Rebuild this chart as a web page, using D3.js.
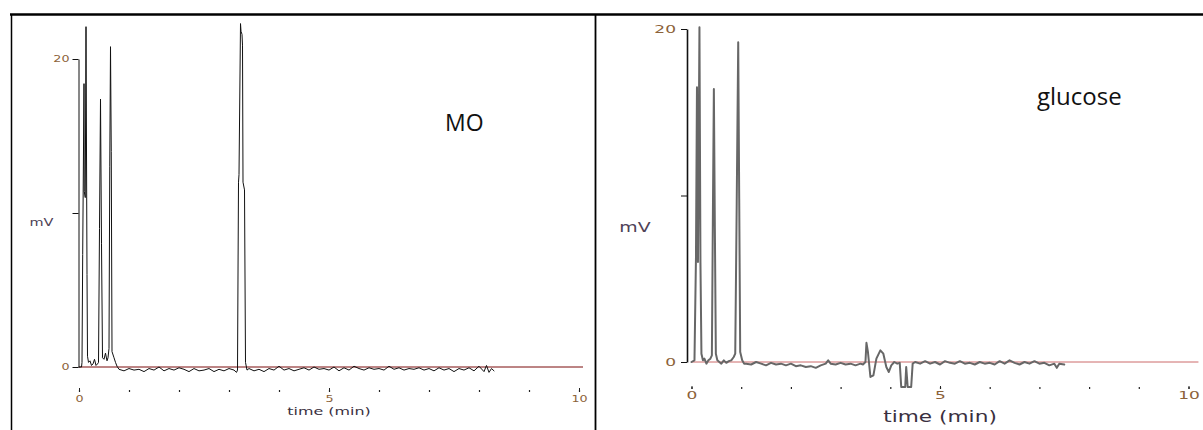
<!DOCTYPE html>
<html>
<head>
<meta charset="utf-8">
<script src="https://cdn.jsdelivr.net/npm/d3@7"></script>
<style>
body { margin: 0; background: #fff; }
svg { display: block; }
.trace { fill: none; stroke-linejoin: round; stroke-linecap: round; }
</style>
</head>
<body>
<div id="chart"></div>
<script>
"use strict"

// axis ticks
const timeTicks = [0, 1, 2, 3, 4, 5, 6, 7, 8, 9, 10];
const timeLabels = [0, 5, 10];
const mvTicks = [0, 10, 20];
const mvLabels = [0, 20];
const panelNames = ["MO", "glucose"];

// MO chromatogram, [time (min), mV]
const moTrace = [
    [0.00, 0], [0.05, 0], [0.06, 0.3], [0.074, 7.3], [0.10, 18.4], [0.105, 11.4], [0.125, 11],
    [0.14, 22.1], [0.16, 6], [0.17, 0.7], [0.19, 0.3], [0.22, 0.4], [0.25, 0.1], [0.28, 0.2],
    [0.31, 0.5], [0.34, 0.1], [0.37, 0.2], [0.39, 0.3], [0.41, 9], [0.43, 17.4], [0.45, 8],
    [0.47, 0.6], [0.50, 0.5], [0.53, 0.9], [0.56, 0.4], [0.58, 0.6], [0.60, 1.2], [0.615, 13],
    [0.63, 20.8], [0.645, 14], [0.66, 1.0], [0.70, 0.6], [0.73, 0.3], [0.76, 0.05],
    [0.8, -0.15], [0.9, -0.25], [1.0, -0.1], [1.1, -0.2], [1.2, -0.15], [1.3, -0.3], [1.4, -0.1],
    [1.5, -0.2], [1.6, 0.0], [1.7, -0.25], [1.8, -0.1], [1.9, -0.2], [2.0, -0.05], [2.1, -0.15],
    [2.2, -0.3], [2.3, -0.1], [2.4, -0.25], [2.5, -0.2], [2.6, -0.1], [2.7, -0.3], [2.8, -0.15],
    [2.9, -0.25], [3.0, -0.1], [3.1, -0.2], [3.15, -0.35], [3.17, -0.2], [3.19, 12], [3.20, 12.5],
    [3.23, 22.3], [3.24, 21.8], [3.26, 21.6], [3.27, 20.9], [3.28, 12], [3.31, 11.5], [3.33, 0.3],
    [3.36, -0.2], [3.4, -0.1], [3.5, -0.25], [3.6, -0.15], [3.7, -0.3], [3.8, -0.1], [3.9, -0.2],
    [4.0, 0.05], [4.1, -0.2], [4.2, -0.1], [4.3, -0.25], [4.4, -0.15], [4.5, -0.05], [4.6, -0.2],
    [4.7, 0.0], [4.8, -0.15], [4.9, -0.1], [5.0, -0.2], [5.1, 0.0], [5.2, -0.25], [5.3, -0.05],
    [5.4, -0.2], [5.5, 0.05], [5.6, -0.1], [5.7, -0.2], [5.8, -0.05], [5.9, -0.15], [6.0, -0.1],
    [6.1, -0.2], [6.2, 0.05], [6.3, -0.15], [6.4, -0.05], [6.5, -0.2], [6.6, -0.1], [6.7, -0.15],
    [6.8, -0.05], [6.9, -0.2], [7.0, -0.1], [7.1, -0.25], [7.2, -0.05], [7.3, -0.2], [7.4, -0.1],
    [7.5, -0.3], [7.6, -0.1], [7.7, -0.2], [7.8, -0.05], [7.9, -0.25], [8.0, 0.05], [8.1, -0.3],
    [8.15, 0.1], [8.2, -0.35], [8.25, -0.1], [8.3, -0.25]
];

// glucose chromatogram, [time (min), mV]
const glucoseTrace = [
    [0.00, 0], [0.06, 0.1], [0.09, 6.3], [0.11, 16.5], [0.13, 6], [0.16, 20.1], [0.18, 6],
    [0.20, 0.5], [0.23, 0.1], [0.26, 0.2], [0.30, -0.1], [0.34, 0.1], [0.38, 0.2], [0.41, 0.4],
    [0.43, 8.7], [0.45, 16.4], [0.47, 8], [0.49, 0.5], [0.52, 0.1], [0.56, 0.0], [0.60, -0.1],
    [0.65, 0.1], [0.70, -0.05], [0.75, 0.05], [0.80, 0.1], [0.85, 0.3], [0.88, 0.5], [0.91, 9.6],
    [0.94, 19.2], [0.96, 9.8], [0.98, 0.6], [1.02, 0.1], [1.06, -0.1],
    [1.1, -0.1], [1.2, -0.15], [1.3, 0.0], [1.4, -0.1], [1.5, -0.2], [1.6, -0.05], [1.7, -0.15],
    [1.8, -0.1], [1.9, -0.2], [2.0, -0.1], [2.1, -0.25], [2.2, -0.2], [2.3, -0.3], [2.4, -0.25],
    [2.5, -0.35], [2.6, -0.2], [2.7, -0.1], [2.75, 0.1], [2.8, -0.1], [2.9, -0.15], [3.0, -0.05],
    [3.1, -0.15], [3.2, -0.1], [3.3, -0.2], [3.4, -0.1], [3.45, -0.15],
    [3.50, 0.0], [3.52, 1.15], [3.55, 0.6], [3.60, -0.9], [3.66, -0.8], [3.72, 0.2], [3.80, 0.7],
    [3.86, 0.5], [3.92, -0.3], [3.97, -0.6], [4.02, -0.2], [4.08, 0.0], [4.14, -0.1], [4.19, -0.05],
    [4.22, -1.5], [4.30, -1.5], [4.32, -0.3], [4.35, -1.5], [4.42, -1.5], [4.45, -0.1], [4.5, 0.0],
    [4.6, -0.1], [4.7, 0.05], [4.8, -0.1], [4.9, 0.0], [5.0, -0.15], [5.1, 0.05], [5.2, -0.05],
    [5.3, -0.1], [5.4, 0.05], [5.5, -0.1], [5.6, -0.05], [5.7, -0.15], [5.8, 0.0], [5.9, -0.1],
    [6.0, -0.05], [6.1, -0.15], [6.2, 0.05], [6.3, -0.1], [6.4, 0.1], [6.5, -0.05], [6.6, -0.15],
    [6.7, 0.0], [6.8, -0.1], [6.9, 0.05], [7.0, -0.1], [7.1, -0.05], [7.2, -0.2], [7.3, -0.1],
    [7.35, -0.35], [7.4, -0.1], [7.5, -0.15]
];

const width = 1203,
    height = 430;

const svg = d3.select("#chart").append("svg")
    .attr("width", width)
    .attr("height", height)
    .style("background", "#fff");

// table frame
svg.append("line").attr("x1", 10).attr("x2", width).attr("y1", 14.5).attr("y2", 14.5)
    .attr("stroke", "#000").attr("stroke-width", 2.5);
svg.append("line").attr("x1", 11.5).attr("x2", 11.5).attr("y1", 14).attr("y2", height)
    .attr("stroke", "#000").attr("stroke-width", 1.5);
svg.append("line").attr("x1", 595.5).attr("x2", 595.5).attr("y1", 14).attr("y2", height)
    .attr("stroke", "#000").attr("stroke-width", 1.8);

const numColor = "#8c6239";
const fontAxis = "'DejaVu Sans', sans-serif";

// stretched text (the original font is a wide gothic)
function wideText(g, x, y, str, size, s, color, anchor) {
    return g.append("text")
        .attr("x", x / s)
        .attr("y", y)
        .attr("transform", "scale(" + s + ",1)")
        .attr("text-anchor", anchor || "middle")
        .style("font-family", fontAxis)
        .style("font-size", size + "px")
        .style("fill", color)
        .text(str);
}

function widen(sel, s) {
    sel.each(function () {
        const t = d3.select(this);
        const x = +(t.attr("x") || 0);
        t.attr("x", x / s).attr("transform", "scale(" + s + ",1)");
    });
}

function drawPanel(p) {
    const g = svg.append("g");
    const x = d3.scaleLinear().domain([0, 10]).range(p.xRange);
    const y = d3.scaleLinear().domain([0, 20]).range(p.yRange);

    // zero baseline
    g.append("line")
        .attr("x1", x(0)).attr("x2", x(p.baseEnd))
        .attr("y1", y(0)).attr("y2", y(0))
        .attr("stroke", p.baseColor).attr("stroke-width", 1);

    // y axis
    const yAxis = g.append("g")
        .attr("transform", "translate(" + p.yAxisX + ",0)")
        .call(d3.axisLeft(y)
            .tickValues(mvTicks)
            .tickSizeInner(6)
            .tickSizeOuter(0)
            .tickPadding(p.yPad)
            .tickFormat(d => mvLabels.includes(d) ? d : ""));
    yAxis.select(".domain").attr("stroke", "#111").attr("stroke-width", p.axisWidth);
    yAxis.selectAll(".tick line").attr("stroke", "#111").attr("stroke-width", 1);
    yAxis.selectAll(".tick text")
        .style("font-family", fontAxis)
        .style("font-size", p.numSize + "px")
        .style("fill", numColor);
    widen(yAxis.selectAll(".tick text"), p.numScale);

    // time axis: small dots every minute, labels at 0, 5, 10
    const minor = g.append("g")
        .attr("transform", "translate(0," + p.xAxisY + ")")
        .call(d3.axisBottom(x).tickValues(timeTicks).tickSizeInner(-2).tickSizeOuter(0).tickFormat(""));
    minor.select(".domain").remove();
    minor.selectAll(".tick line").attr("stroke", "#222").attr("stroke-width", 1.2);

    const major = g.append("g")
        .attr("transform", "translate(0," + p.xAxisY + ")")
        .call(d3.axisBottom(x).tickValues(timeLabels).tickSizeInner(-p.majorTick).tickSizeOuter(0)
            .tickPadding(p.xPad));
    major.select(".domain").remove();
    major.selectAll(".tick line").attr("stroke", "#222").attr("stroke-width", 1);
    major.selectAll(".tick text")
        .style("font-family", fontAxis)
        .style("font-size", p.numSize + "px")
        .style("fill", numColor);
    widen(major.selectAll(".tick text"), p.numScale);

    // axis titles
    wideText(g, p.mvPos[0], p.mvPos[1], "mV", p.mvSize, p.titleScale, "#4e4256");
    wideText(g, x(5), p.timeY, "time (min)", p.timeSize, p.titleScale, "#3a3040");

    // trace
    const line = d3.line()
        .x(d => x(d[0]))
        .y(d => y(d[1]));
    g.append("path")
        .datum(p.data)
        .attr("class", "trace")
        .attr("d", line)
        .attr("stroke", p.traceColor)
        .attr("stroke-width", p.traceWidth);

    // panel name
    g.append("text")
        .attr("x", p.namePos[0])
        .attr("y", p.namePos[1])
        .style("font-family", "'Open Sans', sans-serif")
        .style("font-size", p.nameSize + "px")
        .style("fill", "#111")
        .text(p.name);
}

drawPanel({
    data: moTrace,
    name: panelNames[0],
    xRange: [79, 579],
    yRange: [367, 59],
    baseEnd: 10.08,
    baseColor: "#7b0a0a",
    yAxisX: 78.5,
    axisWidth: 1,
    yPad: 3,
    numSize: 8.5,
    numScale: 1.5,
    xAxisY: 392,
    majorTick: 4,
    xPad: 4,
    mvPos: [41.5, 226],
    mvSize: 10,
    timeY: 415,
    timeSize: 11,
    titleScale: 1.45,
    traceColor: "#111",
    traceWidth: 1,
    namePos: [445, 131],
    nameSize: 23
});

drawPanel({
    data: glucoseTrace,
    name: panelNames[1],
    xRange: [691.5, 1188.5],
    yRange: [362, 29],
    baseEnd: 10.2,
    baseColor: "#cc6a6a",
    yAxisX: 687,
    axisWidth: 1.6,
    yPad: 5,
    numSize: 11,
    numScale: 1.55,
    xAxisY: 389,
    majorTick: 3,
    xPad: 2,
    mvPos: [635, 232],
    mvSize: 13.5,
    timeY: 422,
    timeSize: 15.5,
    titleScale: 1.4,
    traceColor: "#676767",
    traceWidth: 2,
    namePos: [1037, 105],
    nameSize: 24
});
</script>
</body>
</html>
